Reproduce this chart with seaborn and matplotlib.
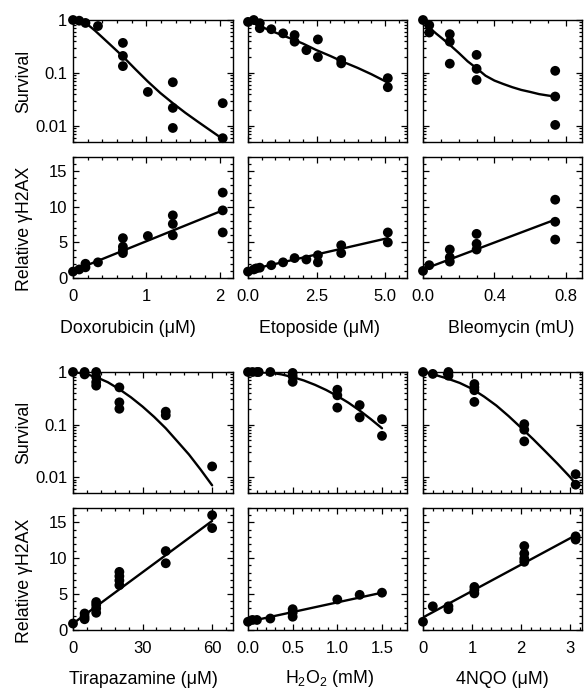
import matplotlib
matplotlib.use("Agg")
import matplotlib.pyplot as plt
import matplotlib.ticker as mticker
import seaborn as sns

# ---- Doxorubicin (uM) ----
dox_surv_x = [0, 0.085, 0.17, 0.34, 0.68, 0.68, 0.68, 1.02, 1.36, 1.36, 1.36, 2.04, 2.04]
dox_surv = [1.0, 0.97, 0.88, 0.77, 0.37, 0.21, 0.135, 0.044, 0.067, 0.022, 0.0092, 0.027, 0.0059]
dox_curve_x = [0, 0.1, 0.2, 0.3, 0.4, 0.5, 0.6, 0.68, 0.85, 1.02, 1.19, 1.36, 1.53, 1.7, 1.87, 2.04]
dox_curve = [1.0, 0.96, 0.82, 0.63, 0.47, 0.35, 0.26, 0.205, 0.118, 0.069, 0.042, 0.027,
             0.0178, 0.0121, 0.0083, 0.0057]
dox_h2ax_x = [0, 0.085, 0.17, 0.17, 0.34, 0.68, 0.68, 0.68, 0.68, 1.02, 1.36, 1.36, 1.36, 2.04, 2.04, 2.04]
dox_h2ax = [0.9, 1.2, 1.5, 2.0, 2.2, 5.6, 4.4, 3.9, 3.5, 5.9, 8.8, 7.6, 6.0, 12.0, 9.5, 6.4]
dox_fit_x = [0, 2.04]
dox_fit = [1.0, 9.5]

# ---- Etoposide (uM) ----
eto_surv_x = [0, 0.21, 0.43, 0.43, 0.85, 1.28, 1.7, 1.7, 2.13, 2.55, 2.55, 3.4, 3.4, 5.1, 5.1]
eto_surv = [0.92, 1.0, 0.87, 0.70, 0.67, 0.56, 0.52, 0.39, 0.27, 0.43, 0.2, 0.176, 0.152, 0.08, 0.054]
eto_curve_x = [0, 0.5, 1.0, 1.5, 2.0, 2.5, 3.0, 3.5, 4.0, 4.5, 5.1]
eto_curve = [0.97, 0.74, 0.58, 0.46, 0.36, 0.27, 0.21, 0.16, 0.125, 0.095, 0.066]
eto_h2ax_x = [0, 0.21, 0.3, 0.43, 0.85, 1.28, 1.7, 2.13, 2.55, 2.55, 3.4, 3.4, 5.1, 5.1]
eto_h2ax = [0.9, 1.2, 1.35, 1.45, 1.8, 2.2, 2.8, 2.6, 3.2, 2.2, 4.6, 3.5, 6.4, 5.0]
eto_fit_x = [0, 5.1]
eto_fit = [1.1, 5.6]

# ---- Bleomycin (mU) ----
bleo_surv_x = [0, 0.035, 0.035, 0.15, 0.15, 0.15, 0.30, 0.30, 0.30, 0.74, 0.74, 0.74]
bleo_surv = [1.0, 0.80, 0.58, 0.54, 0.39, 0.15, 0.22, 0.12, 0.074, 0.11, 0.036, 0.0105]
bleo_curve_x = [0, 0.025, 0.05, 0.075, 0.1, 0.125, 0.15, 0.2, 0.25, 0.3, 0.35, 0.4,
                0.45, 0.5, 0.55, 0.6, 0.65, 0.7, 0.74]
bleo_curve = [1.0, 0.81, 0.65, 0.55, 0.47, 0.40, 0.34, 0.24, 0.166, 0.123, 0.089, 0.072,
              0.062, 0.054, 0.048, 0.044, 0.040, 0.0376, 0.036]
bleo_h2ax_x = [0, 0.035, 0.15, 0.15, 0.15, 0.30, 0.30, 0.30, 0.74, 0.74, 0.74]
bleo_h2ax = [1.0, 1.8, 4.0, 2.9, 2.3, 6.2, 4.8, 4.0, 11.0, 7.9, 5.4]
bleo_fit_x = [0, 0.74]
bleo_fit = [1.2, 8.2]

# ---- Tirapazamine (uM) ----
tpz_surv_x = [0, 5, 5, 10, 10, 10, 10, 20, 20, 20, 40, 40, 60]
tpz_surv = [1.0, 1.0, 0.9, 1.0, 0.8, 0.64, 0.55, 0.51, 0.265, 0.2, 0.176, 0.15, 0.016]
tpz_curve_x = [0, 5, 10, 15, 20, 25, 30, 35, 40, 45, 50, 55, 60]
tpz_curve = [1.0, 0.93, 0.8, 0.64, 0.47, 0.33, 0.22, 0.14, 0.085, 0.048, 0.027, 0.014, 0.007]
tpz_h2ax_x = [0, 5, 5, 5, 10, 10, 10, 10, 20, 20, 20, 20, 40, 40, 60, 60]
tpz_h2ax = [0.9, 2.3, 1.85, 1.5, 3.9, 3.5, 3.0, 2.4, 8.1, 7.5, 6.9, 6.25, 11.0, 9.3, 16.0, 14.2]
tpz_fit_x = [0, 60]
tpz_fit = [0.9, 15.2]

# ---- H2O2 (mM) ----
h2o2_surv_x = [0, 0.05, 0.1, 0.12, 0.25, 0.5, 0.5, 0.5, 1.0, 1.0, 1.0, 1.25, 1.25, 1.5, 1.5]
h2o2_surv = [1.0, 1.0, 1.0, 1.0, 1.0, 0.96, 0.83, 0.65, 0.46, 0.36, 0.21, 0.235, 0.137, 0.127, 0.061]
h2o2_curve_x = [0, 0.25, 0.375, 0.5, 0.625, 0.75, 0.875, 1.0, 1.125, 1.25, 1.375, 1.5]
h2o2_curve = [1.0, 0.97, 0.9, 0.8, 0.69, 0.57, 0.455, 0.35, 0.26, 0.185, 0.127, 0.085]
h2o2_h2ax_x = [0, 0.05, 0.1, 0.25, 0.5, 0.5, 0.5, 1.0, 1.25, 1.5]
h2o2_h2ax = [1.15, 1.4, 1.4, 1.6, 2.9, 2.4, 1.85, 4.25, 4.9, 5.2]
h2o2_fit_x = [0, 1.5]
h2o2_fit = [1.15, 5.2]

# ---- 4NQO (uM) ----
nqo_surv_x = [0, 0.2, 0.52, 0.52, 1.05, 1.05, 1.05, 1.05, 2.07, 2.07, 2.07, 3.12, 3.12]
nqo_surv = [1.0, 0.92, 1.0, 0.85, 0.59, 0.51, 0.45, 0.27, 0.102, 0.08, 0.048, 0.0114, 0.0072]
nqo_curve_x = [0, 0.25, 0.5, 0.75, 1.0, 1.25, 1.5, 1.75, 2.0, 2.25, 2.5, 2.75, 3.0, 3.12]
nqo_curve = [1.0, 0.88, 0.75, 0.62, 0.48, 0.34, 0.23, 0.145, 0.088, 0.053, 0.031, 0.018,
             0.0102, 0.0075]
nqo_h2ax_x = [0, 0.2, 0.52, 0.52, 1.05, 1.05, 1.05, 2.07, 2.07, 2.07, 2.07, 3.12, 3.12]
nqo_h2ax = [1.15, 3.3, 3.3, 2.9, 6.0, 5.55, 5.1, 11.7, 10.65, 9.95, 9.5, 13.05, 12.6]
nqo_fit_x = [0, 3.12]
nqo_fit = [1.75, 13.2]

xlabels = ["Doxorubicin (\u03bcM)", "Etoposide (\u03bcM)", "Bleomycin (mU)",
           "Tirapazamine (\u03bcM)", "H$_2$O$_2$ (mM)", "4NQO (\u03bcM)"]

sns.set_style("ticks", {"axes.edgecolor": "black", "xtick.color": "black",
                        "ytick.color": "black", "text.color": "black",
                        "axes.labelcolor": "black",
                        "xtick.direction": "in", "ytick.direction": "in"})
plt.rcParams["font.family"] = ["Liberation Sans", "DejaVu Sans"]
plt.rcParams["mathtext.fontset"] = "custom"
plt.rcParams["mathtext.rm"] = "Liberation Sans"
plt.rcParams["mathtext.it"] = "Liberation Sans:italic"

W, H = 588, 692
fig = plt.figure(figsize=(W / 100, H / 100), dpi=100)

cols_px = [(73, 233), (248, 407), (423, 582)]
rows_px = [(20, 142), (157, 278), (372, 493), (508, 630)]


def add_ax(col, row):
    x0, x1 = cols_px[col]
    y0, y1 = rows_px[row]
    return fig.add_axes([x0 / W, 1 - y1 / H, (x1 - x0) / W, (y1 - y0) / H])


panels = [
    dict(sx=dox_surv_x, sy=dox_surv, cx=dox_curve_x, cy=dox_curve,
         hx=dox_h2ax_x, hy=dox_h2ax, fx=dox_fit_x, fy=dox_fit,
         xlim=(0, 2.18), major=1, minor=0.2, fmt="%d", lx=0.344, ly=-0.35),
    dict(sx=eto_surv_x, sy=eto_surv, cx=eto_curve_x, cy=eto_curve,
         hx=eto_h2ax_x, hy=eto_h2ax, fx=eto_fit_x, fy=eto_fit,
         xlim=(0, 5.8), major=2.5, minor=0.5, fmt="%.1f", lx=0.447, ly=-0.35),
    dict(sx=bleo_surv_x, sy=bleo_surv, cx=bleo_curve_x, cy=bleo_curve,
         hx=bleo_h2ax_x, hy=bleo_h2ax, fx=bleo_fit_x, fy=bleo_fit,
         xlim=(0, 0.89), major=0.4, minor=0.1, fmt="%.1f", lx=0.553, ly=-0.35),
    dict(sx=tpz_surv_x, sy=tpz_surv, cx=tpz_curve_x, cy=tpz_curve,
         hx=tpz_h2ax_x, hy=tpz_h2ax, fx=tpz_fit_x, fy=tpz_fit,
         xlim=(0, 69), major=30, minor=6, fmt="%d", lx=0.44, ly=-0.34),
    dict(sx=h2o2_surv_x, sy=h2o2_surv, cx=h2o2_curve_x, cy=h2o2_curve,
         hx=h2o2_h2ax_x, hy=h2o2_h2ax, fx=h2o2_fit_x, fy=h2o2_fit,
         xlim=(0, 1.78), major=0.5, minor=0.1, fmt="%.1f", lx=0.516, ly=-0.31),
    dict(sx=nqo_surv_x, sy=nqo_surv, cx=nqo_curve_x, cy=nqo_curve,
         hx=nqo_h2ax_x, hy=nqo_h2ax, fx=nqo_fit_x, fy=nqo_fit,
         xlim=(0, 3.25), major=1, minor=0.2, fmt="%d", lx=0.497, ly=-0.34),
]


def style(ax):
    ax.tick_params(which="both", direction="in", top=True, right=True,
                   width=0.9, labelsize=12, color="black")
    ax.tick_params(which="major", length=4.5, pad=4)
    ax.tick_params(which="minor", length=2.5)
    for s in ax.spines.values():
        s.set_linewidth(1.0)
        s.set_color("black")


for i, p in enumerate(panels):
    col = i % 3
    grp = i // 3
    ax_s = add_ax(col, grp * 2)
    ax_h = add_ax(col, grp * 2 + 1)

    # survival
    sns.lineplot(x=p["cx"], y=p["cy"], ax=ax_s, color="black", lw=1.7,
                 estimator=None, sort=False)
    sns.scatterplot(x=p["sx"], y=p["sy"], ax=ax_s, color="black", s=50,
                    edgecolor="none", clip_on=False, zorder=3)
    ax_s.set_yscale("log")
    ax_s.set_ylim(0.005, 1.0)
    ax_s.yaxis.set_major_locator(mticker.FixedLocator([0.01, 0.1, 1]))
    ax_s.yaxis.set_major_formatter(mticker.FixedFormatter(["0.01", "0.1", "1"]))
    ax_s.yaxis.set_minor_locator(mticker.LogLocator(base=10, subs=range(2, 10)))
    ax_s.yaxis.set_minor_formatter(mticker.NullFormatter())

    # gamma-H2AX
    sns.lineplot(x=p["fx"], y=p["fy"], ax=ax_h, color="black", lw=1.7,
                 estimator=None, sort=False)
    sns.scatterplot(x=p["hx"], y=p["hy"], ax=ax_h, color="black", s=50,
                    edgecolor="none", clip_on=False, zorder=3)
    ax_h.set_ylim(0, 17)
    ax_h.yaxis.set_major_locator(mticker.MultipleLocator(5))
    ax_h.yaxis.set_minor_locator(mticker.MultipleLocator(1))

    for ax in (ax_s, ax_h):
        ax.set_xlim(*p["xlim"])
        ax.xaxis.set_major_locator(mticker.MultipleLocator(p["major"]))
        ax.xaxis.set_minor_locator(mticker.MultipleLocator(p["minor"]))
        ax.xaxis.set_major_formatter(mticker.FormatStrFormatter(p["fmt"]))
        style(ax)
        if col > 0:
            ax.tick_params(labelleft=False)
    ax_s.tick_params(labelbottom=False)
    ax_h.tick_params(axis="x", pad=8)

    ax_h.set_xlabel(xlabels[i], fontsize=12.8)
    ax_h.xaxis.set_label_coords(p["lx"], p["ly"])

    if col == 0:
        ax_s.set_ylabel("Survival", fontsize=12.8)
        ax_s.yaxis.set_label_coords(-0.256, 0.5)
        ax_h.set_ylabel("Relative \u03b3H2AX", fontsize=12.8)
        ax_h.yaxis.set_label_coords(-0.25, 0.405)

fig.savefig("out.png", dpi=100)
